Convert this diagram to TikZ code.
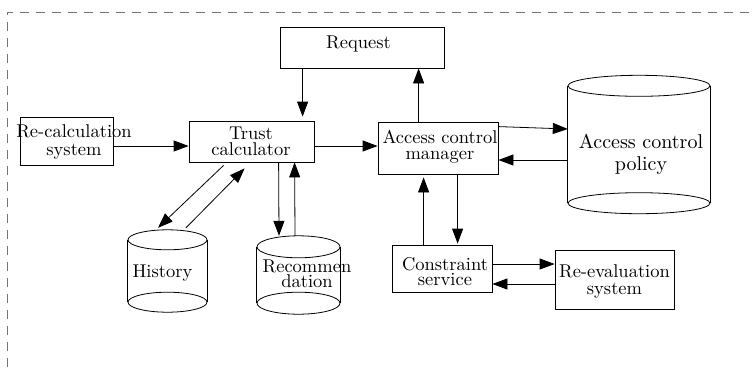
\documentclass[tikz,border=0pt]{standalone}
\usepackage{fontspec}
% the 10pt design of Latin Modern, used at every size
\setmainfont{lmroman10-regular.otf}
\usetikzlibrary{arrows.meta,calc}

\tikzset{
  box/.style={draw, line width=0.8pt, inner sep=0pt},
  area/.style={inner sep=0pt},
  txt/.style={inner sep=0pt, align=center, anchor=base,
    font=\fontsize{18.5}{16}\selectfont},
  link/.style={line width=0.8pt, -{Triangle[length=15pt,width=11pt]}},
  frame/.style={draw=black!55, line width=0.8pt, dash pattern=on 9pt off 7pt},
  drum/.style={line width=0.8pt}
}

% cylinder drawn over a named area node: top ellipse, sides, full bottom ellipse
\newcommand{\drawdrum}[3]{% name, x radius, y radius
  \draw[drum] (#1.north) ellipse [x radius=#2, y radius=#3];
  \draw[drum] (#1.north west) -- (#1.south west);
  \draw[drum] (#1.north east) -- (#1.south east);
  \draw[drum] (#1.south) ellipse [x radius=#2, y radius=#3];
}

\begin{document}
\begin{tikzpicture}[x=1pt, y=-1pt]
\useasboundingbox (0,0) rectangle (754,367);

% outer dashed frame (top and left edges)
\draw[frame] (7,367) -- (7,12) -- (754,12);

% boxes
\node[box, minimum width=164pt, minimum height=41pt] (request) at (362,47.5) {};
\node[box, minimum width=125pt, minimum height=41pt] (trust)   at (251.5,141.5) {};
\node[box, minimum width=93pt,  minimum height=48pt] (recalc)  at (66.5,141) {};
\node[box, minimum width=120pt, minimum height=52pt] (acm)     at (438,148) {};
\node[box, minimum width=100pt, minimum height=47pt] (cons)    at (442,268.5) {};
\node[box, minimum width=119pt, minimum height=59pt] (reeval)  at (614.5,279.5) {};

% cylinder areas (between the centres of top and bottom ellipses)
\node[area, minimum width=142pt, minimum height=117pt] (acp)     at (639,144.5) {};
\node[area, minimum width=79pt,  minimum height=62pt]  (history) at (167.5,271) {};
\node[area, minimum width=83pt,  minimum height=56pt]  (recom)   at (298.5,275) {};

\drawdrum{acp}{71}{10.5}
\drawdrum{history}{39.5}{10}
\drawdrum{recom}{41.5}{11}

% labels (anchored at the baseline of their last line)
\node[txt] (requestT) at (358.5,48) {Request};
\node[txt] (trustT)   at (251,155) {Trust\\calculator};
\node[txt, font=\fontsize{18.5}{18}\selectfont] (recalcT) at (74,155) {Re-calculation\\system};
\node[txt] (acmT)     at (440,159) {Access control\\manager};
\node[txt, font=\fontsize{20}{22}\selectfont] (acpT) at (641,170) {Access control\\policy};
\node[txt] (historyT) at (162.5,277) {History};
\node[txt, font=\fontsize{18.5}{11}\selectfont] (recomT) at (307,287) {Recommen\\dation};
\node[txt, font=\fontsize{18.5}{15}\selectfont] (consT) at (445,285) {Constraint\\service};
\node[txt, font=\fontsize{18.5}{17}\selectfont] (reevalT) at (614.5,294) {Re-evaluation\\system};

% connectors
\draw[link] ($(request.south west)+(23,0)$) -- ($(trust.north west)+(114,-4)$);
\draw[link] ($(acm.north west)+(41,0)$) -- ($(request.south west)+(139,0)$);
\draw[link] ($(recalc.east)+(0,5)$) -- ($(trust.west)+(0,4.5)$);
\draw[link] ($(trust.east)+(0,4.5)$) -- ($(acm.west)+(0,-2)$);
\draw[link] ($(acm.north east)+(0,5)$) -- ($(acp.west)+(0,-15.5)$);
\draw[link] ($(acp.west)+(0,15.5)$) -- ($(acm.east)+(0,12)$);
\draw[link] ($(acm.south west)+(80,0)$) -- ($(cons.north west)+(66,-1)$);
\draw[link] ($(cons.north west)+(32,0)$) -- ($(acm.south west)+(46,3)$);
\draw[link] ($(cons.east)+(0,-4.5)$) -- ($(reeval.west)+(0,-15.5)$);
\draw[link] ($(reeval.west)+(0,4.5)$) -- ($(cons.east)+(0,15.5)$);
\draw[link] ($(trust.south west)+(35,3)$) -- ($(history.north)+(-9.5,-12)$);
\draw[link] ($(history.north)+(18.5,-12)$) -- ($(trust.south west)+(56,6)$);
\draw[link] ($(trust.south west)+(90,0)$) -- ($(recom.north)+(-19.5,-11)$);
\draw[link] ($(recom.north)+(-3.5,-11)$) -- ($(trust.south west)+(106,0)$);

\end{tikzpicture}
\end{document}
